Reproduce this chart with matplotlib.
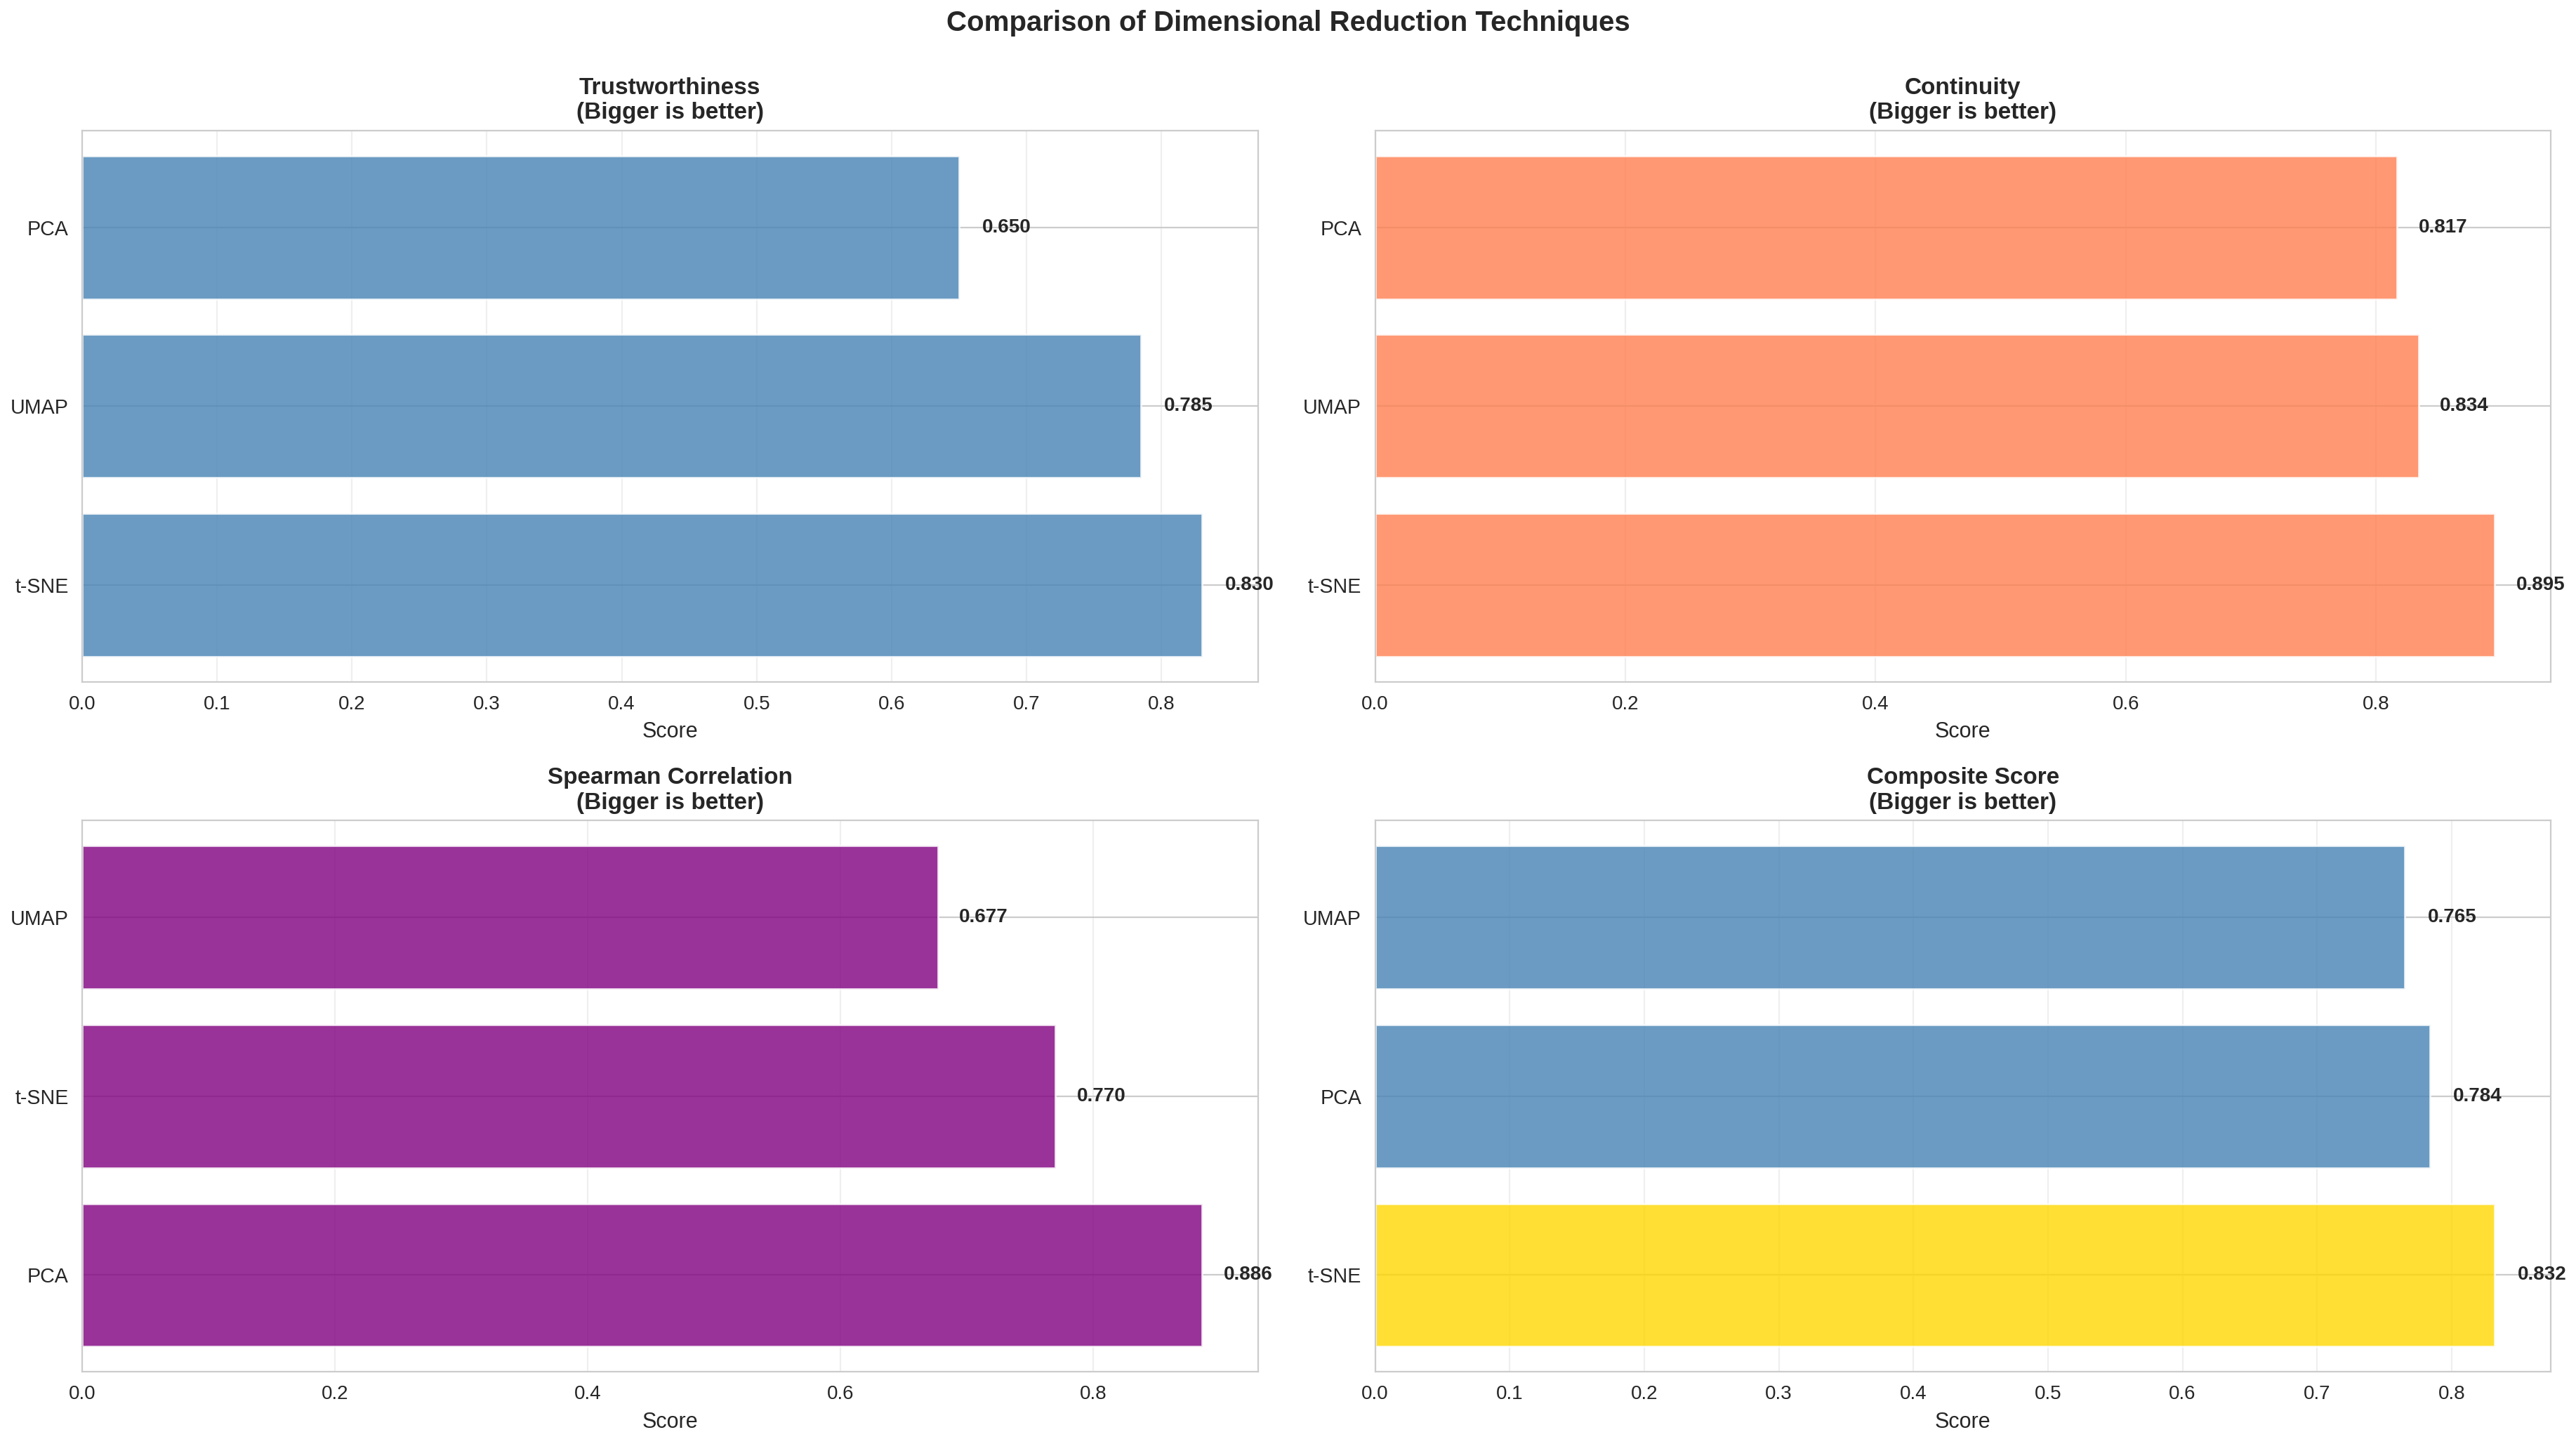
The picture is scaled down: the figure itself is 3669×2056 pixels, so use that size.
import matplotlib
matplotlib.use('Agg')
import matplotlib.pyplot as plt
import seaborn as sns
import numpy as np

sns.set_style('whitegrid')
plt.rcParams['font.family'] = ['Liberation Sans', 'DejaVu Sans']

# data, listed bottom -> top as drawn
trust_methods = ['t-SNE', 'UMAP', 'PCA']
trust_scores = [0.830, 0.785, 0.650]

cont_methods = ['t-SNE', 'UMAP', 'PCA']
cont_scores = [0.895, 0.834, 0.817]

spear_methods = ['PCA', 't-SNE', 'UMAP']
spear_scores = [0.886, 0.770, 0.677]

comp_methods = ['t-SNE', 'PCA', 'UMAP']
comp_scores = [0.832, 0.784, 0.765]

fig, axes = plt.subplots(2, 2, figsize=(18.345, 10.28), dpi=200)
fig.subplots_adjust(left=0.0319, right=0.9902, bottom=0.0501, top=0.9095,
                    wspace=0.0997, hspace=0.252)


def draw(ax, methods, scores, colors, title):
    y = np.arange(len(methods))
    ax.barh(y, scores, height=0.8, color=colors, alpha=0.8)
    ax.set_yticks(y)
    ax.set_yticklabels(methods, fontsize=10.3)
    ax.tick_params(axis='x', labelsize=10)
    ax.set_xlim(0, max(scores) * 1.05)
    ax.set_xlabel('Score', fontsize=11)
    ax.set_title(title + '\n(Bigger is better)', fontsize=12, fontweight='bold')
    ax.grid(axis='x', alpha=0.3)
    for yi, s in zip(y, scores):
        ax.text(s + 0.017, yi, f'{s:.3f}', va='center', ha='left',
                fontsize=10, fontweight='bold')


draw(axes[0, 0], trust_methods, trust_scores, 'steelblue', 'Trustworthiness')
draw(axes[0, 1], cont_methods, cont_scores, 'coral', 'Continuity')
draw(axes[1, 0], spear_methods, spear_scores, 'purple', 'Spearman Correlation')

best = int(np.argmax(comp_scores))
comp_colors = ['gold' if i == best else 'steelblue' for i in range(len(comp_scores))]
draw(axes[1, 1], comp_methods, comp_scores, comp_colors, 'Composite Score')

fig.suptitle('Comparison of Dimensional Reduction Techniques', fontsize=14.5,
             fontweight='bold', y=0.993, va='top')

plt.savefig('out.png', dpi=200)
